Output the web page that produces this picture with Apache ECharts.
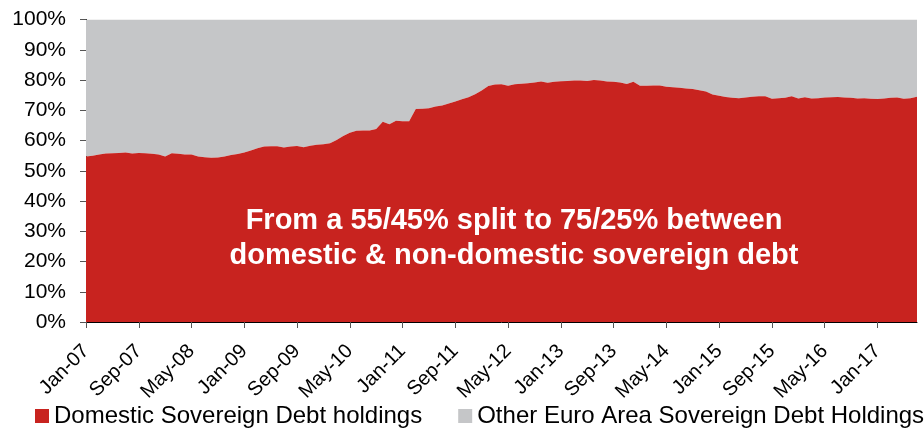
<!DOCTYPE html>
<html>
<head>
<meta charset="utf-8">
<script src="https://cdn.jsdelivr.net/npm/echarts@6/dist/echarts.min.js"></script>
<style>
  html, body { margin: 0; padding: 0; background: #fff; }
  #main { width: 924px; height: 429px; }
</style>
</head>
<body>
<div id="main"></div>
<script>
// monthly, Jan-07 .. Jul-17
var monthNames = ['Jan','Feb','Mar','Apr','May','Jun','Jul','Aug','Sep','Oct','Nov','Dec'];
var years = ['07','08','09','10','11','12','13','14','15','16','17'];

// share of domestic sovereign debt holdings (%)
var domestic2007 = [54.7, 55.0, 55.4, 55.7, 55.8, 55.9, 56.0, 55.7, 55.9, 55.8, 55.6, 55.4];
var domestic2008 = [54.7, 55.8, 55.6, 55.4, 55.4, 54.7, 54.5, 54.3, 54.4, 54.7, 55.2, 55.5];
var domestic2009 = [56.0, 56.7, 57.4, 58.0, 58.1, 58.1, 57.7, 58.0, 58.2, 57.8, 58.3, 58.6];
var domestic2010 = [58.8, 59.1, 60.2, 61.5, 62.6, 63.2, 63.3, 63.3, 63.8, 66.2, 65.4, 66.5];
var domestic2011 = [66.4, 66.4, 70.4, 70.5, 70.7, 71.2, 71.6, 72.2, 72.9, 73.6, 74.3, 75.3];
var domestic2012 = [76.5, 78.0, 78.5, 78.6, 78.1, 78.6, 78.8, 78.9, 79.2, 79.5, 79.1, 79.4];
var domestic2013 = [79.6, 79.7, 79.8, 79.8, 79.7, 80.0, 79.8, 79.5, 79.4, 79.2, 78.7, 79.4];
var domestic2014 = [78.1, 78.1, 78.2, 78.2, 77.8, 77.6, 77.4, 77.2, 77.0, 76.6, 76.2, 75.2];
var domestic2015 = [74.8, 74.4, 74.1, 74.0, 74.2, 74.5, 74.6, 74.6, 73.8, 74.0, 74.1, 74.6];
var domestic2016 = [73.9, 74.3, 73.9, 74.0, 74.2, 74.3, 74.4, 74.2, 74.1, 73.9, 74.0, 73.8];
var domestic2017 = [73.7, 73.9, 74.1, 74.2, 73.8, 74.0, 74.5];

var domestic = [].concat(domestic2007, domestic2008, domestic2009, domestic2010,
  domestic2011, domestic2012, domestic2013, domestic2014, domestic2015,
  domestic2016, domestic2017);

// the rest of the 100% is held by other euro area sovereigns
var other = domestic.map(function (v) { return +(100 - v).toFixed(1); });

var months = [];
years.forEach(function (y) {
  monthNames.forEach(function (m) { months.push(m + '-' + y); });
});
months = months.slice(0, domestic.length);

var yTicks = [0, 10, 20, 30, 40, 50, 60, 70, 80, 90, 100];

var font = 'Liberation Sans, Arial, sans-serif';

var option = {
  animation: false,
  color: ['#c8231f', '#c5c6c8'],
  grid: {
    left: 86,
    right: 7,
    top: 19.5,
    bottom: 107
  },
  legend: {
    left: 35,
    top: 404,
    width: 900,
    padding: 0,
    itemWidth: 14,
    itemHeight: 14,
    itemGap: 36,
    icon: 'rect',
    textStyle: { fontFamily: font, fontSize: 24, color: '#000' },
    data: ['Domestic Sovereign Debt holdings', 'Other Euro Area Sovereign Debt Holdings']
  },
  xAxis: {
    type: 'category',
    boundaryGap: false,
    data: months,
    axisLine: { lineStyle: { color: '#000', width: 1 } },
    axisTick: { interval: 7, length: 6, lineStyle: { color: '#555' } },
    axisLabel: {
      interval: 7,
      rotate: 45,
      margin: 26,
      fontFamily: font,
      fontSize: 20,
      color: '#000'
    },
    splitLine: { show: false }
  },
  yAxis: {
    type: 'value',
    min: yTicks[0],
    max: yTicks[yTicks.length - 1],
    interval: 10,
    axisLine: { show: true, lineStyle: { color: '#000', width: 1 } },
    axisTick: { show: true, length: 6, lineStyle: { color: '#555' } },
    axisLabel: {
      margin: 20,
      fontFamily: font,
      fontSize: 21,
      color: '#000',
      formatter: '{value}%'
    },
    splitLine: { show: false }
  },
  series: [
    {
      name: 'Domestic Sovereign Debt holdings',
      type: 'line',
      stack: 'total',
      symbol: 'none',
      lineStyle: { width: 0 },
      areaStyle: { color: '#c8231f', opacity: 1 },
      data: domestic,
      z: 3
    },
    {
      name: 'Other Euro Area Sovereign Debt Holdings',
      type: 'line',
      stack: 'total',
      symbol: 'none',
      lineStyle: { width: 0 },
      areaStyle: { color: '#c5c6c8', opacity: 1 },
      data: other,
      z: 2
    }
  ],
  graphic: [
    {
      type: 'text',
      x: 514,
      y: 238,
      style: {
        text: 'From a 55/45% split to 75/25% between\ndomestic & non-domestic sovereign debt',
        fill: '#fff',
        font: 'bold 29px ' + font,
        align: 'center',
        verticalAlign: 'middle',
        lineHeight: 35
      },
      z: 10
    }
  ]
};

var chartDom = document.getElementById('main');
var myChart = echarts.init(chartDom);
option && myChart.setOption(option);
</script>
</body>
</html>
